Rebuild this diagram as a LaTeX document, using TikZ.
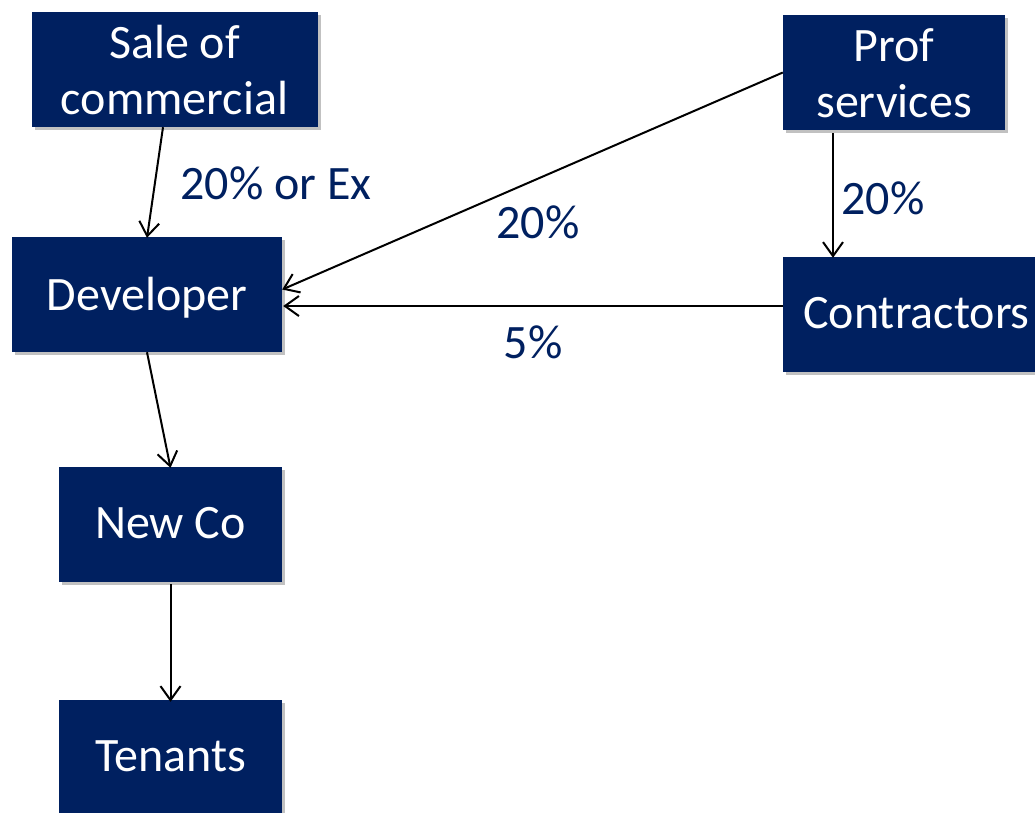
\documentclass[tikz,border=0pt]{standalone}
\usepackage{fontspec}
\setmainfont{Carlito}
\usetikzlibrary{arrows.meta,calc,shadows}
\definecolor{navy}{RGB}{0,32,96}
\newcommand{\boxtext}[2]{\raisebox{#1}[\height][\depth]{\begin{tabular}{@{}c@{}}#2\end{tabular}}}
\begin{document}
\begin{tikzpicture}[x=1pt,y=1pt,
  box/.style={fill=navy,text=white,minimum height=115pt,inner sep=0pt,
    font=\fontsize{48}{56}\selectfont,
    drop shadow={shadow xshift=3pt,shadow yshift=-3pt,opacity=0.35,fill=black!70}},
  conn/.style={line width=2pt,-{Straight Barb[length=14pt,width=20pt,line width=2pt]}},
  lbl/.style={text=navy,font=\fontsize{48}{56}\selectfont,inner sep=0pt}]
\useasboundingbox (0,0) rectangle (1035,-812);
\clip (0,0) rectangle (1035,-812);
\node[box,minimum width=286pt] (sale) at (174.5,-69.5) {\boxtext{-6pt}{Sale of\\commercial}};
\node[box,minimum width=270pt] (dev) at (147,-294.5) {\boxtext{-5pt}{Developer}};
\node[box,minimum width=222pt] (prof) at (894,-72.5) {\boxtext{-6pt}{Prof\\services}};
\node[box,minimum width=267pt] (contr) at (916.5,-314.5) {\boxtext{-3pt}{Contractors}};
\node[box,minimum width=223pt] (newco) at (170.5,-524.5) {\boxtext{-3pt}{New Co}};
\node[box,minimum width=223pt] (ten) at (170.5,-757.5) {\boxtext{-3pt}{Tenants}};
\draw[conn] ($(sale.south)+(-11.5,0)$) -- ($(dev.north)+(0,-1)$);
\draw[conn] (prof.west) -- ($(dev.east)+(0,5)$);
\draw[conn] ($(contr.west)+(0,8.5)$) -- ($(dev.east)+(1,-11.5)$);
\draw[conn] ($(prof.south)+(-61,-3)$) -- ($(contr.north)+(-83.5,-1)$);
\draw[conn] ($(dev.south)+(0,0)$) -- ($(newco.north)+(0,-1)$);
\draw[conn] ($(newco.south)+(0,-2)$) -- ($(ten.north)+(0,-2)$);
\node[lbl] (l1) at (276,-183) {20\% or Ex};
\node[lbl] (l2) at (538,-222) {20\%};
\node[lbl] (l3) at (883,-198) {20\%};
\node[lbl] (l4) at (533,-342) {5\%};
\end{tikzpicture}
\end{document}
